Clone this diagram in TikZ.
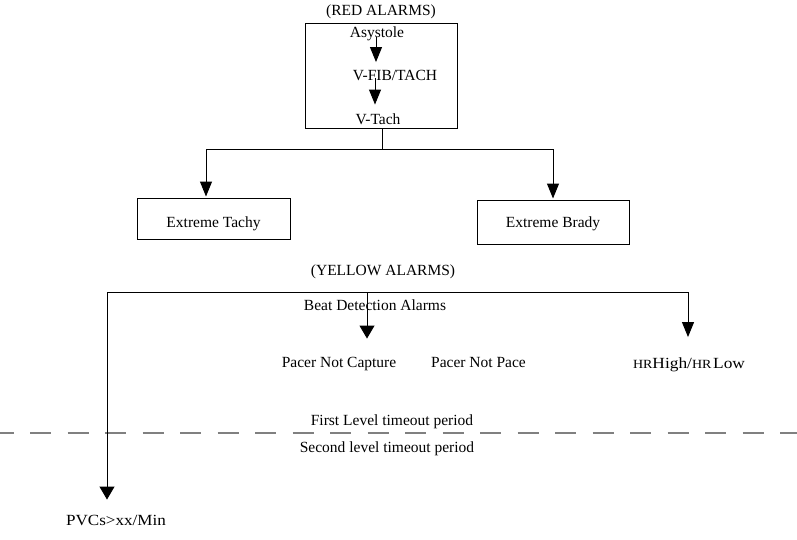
\documentclass[tikz,border=0pt]{standalone}
\usepackage{fontspec}
\setmainfont{Liberation Serif}
\usetikzlibrary{arrows.meta}
\begin{document}
\begin{tikzpicture}[x=1pt,y=-1pt,
  every node/.style={font=\fontsize{15.5}{18}\selectfont, inner sep=0pt},
  txt/.style={anchor=base},
  link/.style={line width=1pt},
  arr/.style={line width=1pt, -{Triangle[width=12pt,length=15pt]}},
  arrw/.style={line width=1pt, -{Triangle[width=15pt,length=13pt]}},
  boxed/.style={draw, line width=1pt},
  timeline/.style={draw=gray, line width=1.6pt, dash pattern=on 21pt off 16.5pt, dash phase=7.5pt}
]
\useasboundingbox (0,0) rectangle (797,539);

% red alarms
\node[boxed, minimum width=152pt, minimum height=105pt] (rb) at (381,75.5) {};
\node[txt] (rtitle) at (381,15.5) {(RED ALARMS)};
\node[txt] (asys) at (377,37) {Asystole};
\node[txt] (vfib) at (395,80) {V-FIB/TACH};
\node[txt] (vtach) at (378,124) {V-Tach};
\coordinate (c1) at (376,0);
\coordinate (c2) at (375,0);
\draw[arr, shorten >=7.5pt] (asys.base -| c1) -- (vfib.north -| c1);
\draw[arr, shorten >=8.5pt] ([yshift=2pt]vfib.base -| c2) -- (vtach.north -| c2);

\node[boxed, minimum width=153pt, minimum height=41pt, text height=17pt, text depth=0pt] (tachy) at (213.5,218.5) {Extreme Tachy};
\node[boxed, minimum width=152pt, minimum height=44pt, text height=10pt, text depth=0pt] (brady) at (553,222) {Extreme Brady\hspace{12pt}};

\coordinate (jm) at (382,149);
\coordinate (jl) at (206,149);
\coordinate (jr) at (553,149);
\draw[link] (rb.south -| jm) -- (jm);
\draw[link] (jl) -- (jr);
\draw[arr, shorten >=1pt] (jl) -- (jl |- tachy.north);
\draw[arr, shorten >=1pt] (jr) -- (jr |- brady.north);

% yellow alarms
\node[txt] (ytitle) at (383,275) {(YELLOW ALARMS)};
\node[txt] (beat) at (375,310) {Beat Detection Alarms};
\node[txt] (pnc) at (339,367) {Pacer Not Capture};
\node[txt] (pnp) at (478.5,367) {Pacer Not Pace};
\node[txt] (hr) at (689,368) {\scalebox{1.12}[1]{{\fontsize{12.5}{14}\selectfont HR}High/{\fontsize{12.5}{14}\selectfont HR}\kern1.5pt Low}};

\node[txt] (first) at (392,425) {First Level timeout period};
\node[txt] (second) at (387,452) {Second level timeout period};
\node[txt] (pvc) at (116,525) {\scalebox{1.1}[1]{PVCs>xx/Min}};

\coordinate (dl) at (0,433);
\coordinate (dr) at (797,433);
\draw[timeline] (dl) -- (dr);

\coordinate (yl) at (107,292);
\coordinate (yb) at (367,292);
\coordinate (yr) at (688,292);
\draw[link] (yl) -- (yr);
\draw[arrw, shorten >=18pt] (yb) -- (yb |- pnc.north);
\draw[arr, shorten >=20pt] (yr) -- (yr |- hr.north);
\draw[arrw, shorten >=15pt] (yl) -- (yl |- pvc.north);
\end{tikzpicture}
\end{document}
